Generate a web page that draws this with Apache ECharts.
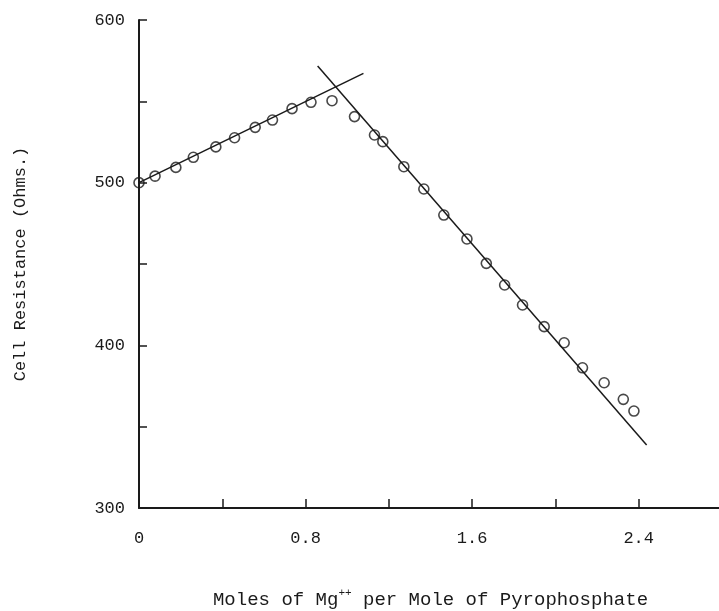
<!DOCTYPE html>
<html>
<head>
<meta charset="utf-8">
<script src="https://cdn.jsdelivr.net/npm/echarts@6/dist/echarts.min.js"></script>
<style>
  html, body { margin: 0; padding: 0; background: #fff; }
  #chart { width: 719px; height: 611px; }
</style>
</head>
<body>
<div id="chart"></div>
<script>
// measured points: moles Mg++ per mole pyrophosphate vs cell resistance
var moles = [0, 0.077, 0.177, 0.261, 0.369, 0.459, 0.558, 0.641, 0.735, 0.826, 0.927,
  1.035, 1.131, 1.171, 1.272, 1.368, 1.464, 1.575, 1.668, 1.756, 1.842, 1.946,
  2.042, 2.130, 2.234, 2.326, 2.377];
var resistance = [500, 504, 509.4, 515.6, 522, 527.6, 534, 538.5, 545.5, 549.4, 550.4,
  540.6, 529.3, 525.2, 509.8, 496.1, 480.1, 465.4, 450.4, 437.1, 424.8, 411.5,
  401.6, 386.2, 377, 366.8, 359.6];

// fitted straight lines (end points)
var riseX = [0, 1.078];
var riseY = [500, 567.2];
var fallX = [0.858, 2.438];
var fallY = [571.7, 338.7];

var xLabels = ['0', '0.8', '1.6', '2.4'];
var yLabels = ['300', '400', '500', '600'];

var font = 'Liberation Mono';
var ink = '#1a1a1a';

function pairs(xs, ys) {
  return xs.map(function (x, i) { return [x, ys[i]]; });
}

var chart = echarts.init(document.getElementById('chart'));

var option = {
  backgroundColor: '#fff',
  animation: false,
  grid: { left: 139, right: -3, top: 20, bottom: 103, outerBoundsMode: 'none', containLabel: false },
  xAxis: {
    type: 'value',
    min: 0,
    max: 2.8,
    interval: 0.4,
    name: 'Moles of Mg{sup|++} per Mole of Pyrophosphate',
    nameLocation: 'middle',
    nameGap: 80,
    nameTextStyle: {
      fontFamily: font, fontSize: 19, color: ink,
      rich: { sup: { fontFamily: font, fontSize: 11, color: ink, verticalAlign: 'top', padding: [0, 0, 12, 0] } }
    },
    axisLine: { lineStyle: { color: ink, width: 2 } },
    axisTick: { inside: true, length: 9, lineStyle: { color: ink, width: 1.5 } },
    splitLine: { show: false },
    axisLabel: {
      margin: 22,
      fontFamily: font, fontSize: 17, color: ink,
      formatter: function (v) {
        var s = String(Math.round(v * 10) / 10);
        return xLabels.indexOf(s) >= 0 ? s : '';
      }
    }
  },
  yAxis: {
    type: 'value',
    min: 300,
    max: 600,
    interval: 50,
    name: 'Cell Resistance (Ohms.)',
    nameLocation: 'middle',
    nameGap: 110,
    nameTextStyle: { fontFamily: font, fontSize: 17, color: ink },
    axisLine: { show: true, lineStyle: { color: ink, width: 2 } },
    axisTick: { show: true, inside: true, length: 8, lineStyle: { color: ink, width: 1.5 } },
    splitLine: { show: false },
    axisLabel: {
      margin: 14,
      fontFamily: font, fontSize: 17, color: ink,
      formatter: function (v) {
        var s = String(v);
        return yLabels.indexOf(s) >= 0 ? s : '';
      }
    }
  },
  series: [
    {
      type: 'line',
      data: pairs(riseX, riseY),
      showSymbol: false,
      lineStyle: { color: ink, width: 1.5 },
      z: 2
    },
    {
      type: 'line',
      data: pairs(fallX, fallY),
      showSymbol: false,
      lineStyle: { color: ink, width: 1.5 },
      z: 2
    },
    {
      type: 'scatter',
      data: pairs(moles, resistance),
      symbol: 'circle',
      symbolSize: 10,
      itemStyle: { color: 'rgba(0,0,0,0)', borderColor: ink, borderWidth: 1.6 },
      z: 3
    }
  ]
};

chart.setOption(option);
</script>
</body>
</html>
